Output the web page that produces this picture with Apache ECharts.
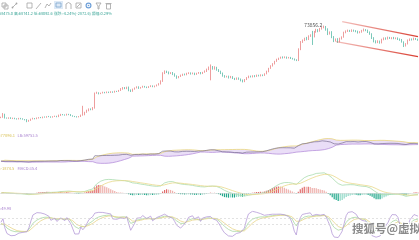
<!DOCTYPE html>
<html><head><meta charset="utf-8">
<script src="https://cdn.jsdelivr.net/npm/echarts@6/dist/echarts.min.js"></script>
<style>html,body{margin:0;padding:0;background:#fff;overflow:hidden}#c{width:419px;height:240px}</style>
</head><body><div id="c"></div>
<script>
// ---- data ----
const firstOpen = 38400;
const closes = [
38600,39800,38300,38200,38400,38100,38300,38000,37900,38200,
38000,37800,37600,37000,37400,37900,38200,38000,38300,38500,
38400,38700,38600,38900,38800,38600,38900,39000,38800,39300,
39700,39500,39400,39800,39600,39200,39000,38800,38700,38900,
39400,39500,40500,41200,41800,41500,42200,47800,48000,47700,
47900,48200,48000,48300,48100,48400,48200,48600,48500,48900,
49500,50000,49600,50200,49000,48600,49400,49900,50300,49800,
50100,50500,50200,50000,50400,50700,50300,50600,51000,51400,
52500,55500,56300,56000,55400,55800,55200,54500,53800,54300,
54800,55200,54900,55400,55700,55300,55600,55100,55500,55800,
55400,55900,56300,56900,57600,58000,57200,57800,56900,56300,
55500,54600,54100,54400,53800,54200,53600,53200,53700,53300,
52800,52300,53100,53900,54400,54100,54600,54300,54800,54500,
54900,54700,55300,56200,57400,58300,59200,60100,60800,61300,
61700,61500,61800,61400,61600,61300,61000,60700,60500,64800,
67500,68200,69000,68600,69800,70300,69600,71500,72200,71800,
72600,73200,73600,72400,70800,71300,69500,68100,68700,67700,
68900,69500,71200,71800,72000,71700,72100,71900,71600,71200,
71500,71900,72300,72000,71400,70600,69200,68000,67400,67900,
67300,68500,69100,68800,69300,69000,69200,68900,69100,68700,
68400,67600,66200,66900,68200,68700,68500,68900,68600,68300
];
const wickUp = [
200,400,150,200,150,200,150,100,200,150,
150,200,100,300,200,150,200,100,200,150,
200,150,200,100,200,150,100,200,150,300,
200,150,200,150,100,200,150,100,200,150,
200,3500,200,300,200,200,300,300,400,200,
150,200,150,200,150,200,150,200,150,200,
300,200,200,150,200,300,200,150,200,200,
150,200,150,200,150,200,150,200,200,300,
300,400,300,200,200,150,200,300,200,150,
200,150,200,300,200,150,200,150,200,200,
200,150,300,400,500,900,300,400,200,200,
200,300,200,150,200,300,200,150,200,200,
200,300,200,150,200,200,150,200,200,150,
200,150,200,300,200,300,200,200,300,200,
200,300,200,150,200,200,150,200,200,300,
400,300,200,500,300,200,1500,300,400,300,
300,200,256.2,100,400,300,400,300,200,300,
300,200,300,200,300,200,300,200,200,300,
200,300,400,200,300,200,300,200,200,300,
200,300,200,200,300,200,200,300,200,200,
200,300,200,200,300,200,200,300,200,200
];
const wickDn = [
150,200,200,150,200,150,200,150,200,150,
200,150,200,300,150,200,150,200,150,200,
150,200,150,200,150,200,150,200,200,150,
200,150,200,150,200,150,200,150,200,150,
200,200,150,200,300,200,200,300,200,300,
200,150,200,150,200,150,200,150,200,150,
200,300,200,200,400,300,200,200,200,300,
200,150,200,200,150,200,150,200,150,200,
200,300,300,400,300,200,400,300,400,200,
200,300,200,150,200,300,200,300,200,200,
300,200,200,300,200,4800,300,300,400,300,
300,400,300,200,300,200,300,300,200,300,
400,300,200,200,300,200,200,300,200,200,
200,300,200,200,300,200,200,300,200,200,
200,300,200,300,200,300,200,300,300,300,
400,300,300,400,300,300,3200,300,400,500,
300,300,400,500,600,400,500,600,400,500,
300,400,300,300,400,300,300,400,300,400,
300,400,300,300,400,300,500,600,400,300,
400,300,300,400,300,300,400,300,300,400,
400,300,600,400,300,300,400,300,300,300
];
// channel lines: [candle index, price] pairs
const channelUpper = [[171, 75350], [209, 69580]];
const channelLower = [[168, 67650], [209, 61890]];
const headerText = '开:68475.0 高:68741.2 低:68092.6 涨跌:-4.24%(-2872.6) 振幅:0.29%';
const bollLegend = ['UB:77096.1', 'LB:59753.5'];
const macdLegend = ['DEA:-1874.5', 'MACD:35.4'];
const kdjLegend = 'J:49.98';
const watermark = '搜狐号@虚拟货币';

// ---- build ----
const N = closes.length;
const cats = closes.map((_, i) => String(i));
const opens = closes.map((c, i) => i === 0 ? firstOpen : closes[i - 1]);
const highs = closes.map((c, i) => Math.max(c, opens[i]) + wickUp[i]);
const lows = closes.map((c, i) => Math.min(c, opens[i]) - wickDn[i]);
const kdata = closes.map((c, i) => [opens[i], c, lows[i], highs[i]]);

// BOLL(20,2)
const ub = [], lb = [];
for (let i = 0; i < N; i++) {
  const s = closes.slice(Math.max(0, i - 19), i + 1);
  const m = s.reduce((a, b) => a + b, 0) / s.length;
  const sd = Math.sqrt(s.reduce((a, b) => a + (b - m) * (b - m), 0) / s.length);
  ub.push(m + 2 * sd); lb.push(m - 2 * sd);
}
const bandDiff = ub.map((u, i) => u - lb[i]);

// MACD(12,26,9)
function ema(arr, n) { const o = []; arr.forEach((v, i) => o.push(i ? o[i - 1] + (v - o[i - 1]) * 2 / (n + 1) : v)); return o; }
const e12 = ema(closes, 12), e26 = ema(closes, 26);
const dif = e12.map((v, i) => v - e26[i]);
const dea = ema(dif, 9);
const hist = dif.map((v, i) => 2 * (v - dea[i]));
const lineMax = Math.max(...dif, ...dea) * 1.04;
const lineMin = -lineMax * 11 / 21;
const hPos = Math.max(...hist), hNeg = -Math.min(...hist);
const hA = Math.max(hPos * 21 / 8, hNeg * 2.1);

// KDJ(9,3,3)
const K = [], D = [], J = [];
for (let i = 0; i < N; i++) {
  const hh = Math.max(...highs.slice(Math.max(0, i - 8), i + 1));
  const ll = Math.min(...lows.slice(Math.max(0, i - 8), i + 1));
  const rsv = hh === ll ? 50 : (closes[i] - ll) / (hh - ll) * 100;
  const k = (i ? K[i - 1] : 50) * 2 / 3 + rsv / 3;
  const d = (i ? D[i - 1] : 50) * 2 / 3 + k / 3;
  K.push(k); D.push(d); J.push(3 * k - 2 * d);
}

const UP = '#e35d5d', DOWN = '#23a48c';
const FONT = '"Noto Sans CJK SC", "Noto Sans", sans-serif';
const gridTops = [[20, 104], [128, 40], [172, 32], [211, 31]];
const grid = gridTops.map(g => ({ left: 0, right: 0, top: g[0], height: g[1] }));
const xAxis = grid.map((_, i) => ({ type: 'category', gridIndex: i, data: cats, boundaryGap: true, show: false }));
const yAxis = [
  { gridIndex: 0, min: 36000, max: 76000, show: false },
  { gridIndex: 1, min: 27000, max: 95000, show: false },
  { gridIndex: 2, min: lineMin, max: lineMax, show: false },
  { gridIndex: 3, min: -25, max: 115, show: false },
  { gridIndex: 2, min: -hA * 11 / 21, max: hA, show: false }
];

const chanGrad = new echarts.graphic.LinearGradient(0, 0, 1, 0, [
  { offset: 0, color: 'rgba(222,80,70,0.35)' }, { offset: 1, color: '#d8392c' }]);

const lineS = (name, data, xi, color, w) => ({
  name, type: 'line', xAxisIndex: xi, yAxisIndex: xi, data, symbol: 'none',
  lineStyle: { color, width: w || 0.8 }, silent: true, animation: false, z: 3
});

const series = [
  {
    type: 'candlestick', data: kdata, barWidth: '60%', animation: false,
    itemStyle: { color: UP, color0: DOWN, borderColor: UP, borderColor0: DOWN, borderWidth: 0.6 },
    markPoint: {
      symbol: 'circle', symbolSize: 0, animation: false,
      data: [{ type: 'max', valueDim: 'highest' }],
      label: { show: true, position: 'left', distance: 2, color: '#555', fontSize: 5, fontFamily: FONT,
        formatter: p => Number(p.value).toFixed(1) }
    },
    markLine: {
      symbol: ['none', 'none'], silent: true, animation: false, label: { show: false },
      lineStyle: { color: chanGrad, width: 1.2, type: 'solid' },
      data: [
        [{ coord: [channelUpper[0][0], channelUpper[0][1]] }, { coord: [channelUpper[1][0], channelUpper[1][1]] }],
        [{ coord: [channelLower[0][0], channelLower[0][1]] }, { coord: [channelLower[1][0], channelLower[1][1]] }]
      ]
    }
  },
  // BOLL band fill
  { type: 'line', xAxisIndex: 1, yAxisIndex: 1, data: lb, stack: 'band', symbol: 'none', lineStyle: { opacity: 0 }, silent: true, animation: false },
  { type: 'line', xAxisIndex: 1, yAxisIndex: 1, data: bandDiff, stack: 'band', symbol: 'none', lineStyle: { opacity: 0 },
    areaStyle: { color: 'rgba(200,170,235,0.55)' }, silent: true, animation: false },
  lineS('UB', ub, 1, '#e9d57c'),
  lineS('LB', lb, 1, '#b792dc'),
  lineS('C', closes, 1, '#7a7090', 0.7),
  // MACD histogram on its own scale in the MACD pane
  {
    type: 'bar', xAxisIndex: 2, yAxisIndex: 4, data: hist, barWidth: '60%', animation: false, silent: true,
    itemStyle: {
      color: p => {
        const i = p.dataIndex, v = p.value, pv = i ? hist[i - 1] : 0;
        if (v >= 0) return v >= pv ? '#e06a6a' : '#eeb0ac';
        return v <= pv ? '#22a98c' : '#8fd8c6';
      }
    },
    markLine: { symbol: ['none', 'none'], silent: true, animation: false, label: { show: false },
      lineStyle: { color: '#d9d9d9', width: 0.6, type: 'solid' }, data: [{ yAxis: 0 }] }
  },
  lineS('DIF', dif, 2, '#a9dcae'),
  lineS('DEA', dea, 2, '#ead98c'),
  // KDJ
  Object.assign(lineS('K', K, 3, '#a9d9a5'), {
    markLine: { symbol: ['none', 'none'], silent: true, animation: false, label: { show: false },
      lineStyle: { color: '#cfcfcf', width: 0.6, type: [2, 2] }, data: [{ yAxis: 80 }, { yAxis: 50 }] }
  }),
  lineS('D', D, 3, '#e8d58a'),
  lineS('J', J, 3, '#b59bd8')
];

// toolbar icons (decoration)
const IC = '#a3a3a3';
const st = { stroke: IC, fill: 'none', lineWidth: 0.8 };
const icons = [
  { type: 'rect', shape: { x: 2, y: 3, width: 4, height: 4 }, style: st },
  { type: 'rect', shape: { x: 4, y: 5, width: 4, height: 4 }, style: st },
  { type: 'line', shape: { x1: 12, y1: 8, x2: 17, y2: 3 }, style: st },
  { type: 'circle', shape: { cx: 12.5, cy: 7.5, r: 0.9 }, style: { fill: IC } },
  { type: 'circle', shape: { cx: 16.5, cy: 3.5, r: 0.9 }, style: { fill: IC } },
  { type: 'rect', shape: { x: 27, y: 3, width: 5, height: 5 }, style: st },
  { type: 'line', shape: { x1: 36, y1: 9, x2: 41, y2: 3 }, style: st },
  { type: 'polyline', shape: { points: [[45, 8], [47, 4], [49, 6], [51, 3]] }, style: st },
  { type: 'rect', shape: { x: 54, y: 1, width: 9, height: 8 }, style: { fill: '#dde9f6' } },
  { type: 'rect', shape: { x: 56, y: 3, width: 5, height: 4 }, style: { stroke: '#7ea6cf', fill: 'none', lineWidth: 0.8 } },
  { type: 'polyline', shape: { points: [[66, 9], [66, 4], [68.5, 2.5], [71, 4], [71, 9]] }, style: st },
  { type: 'rect', shape: { x: 76, y: 3, width: 5, height: 5 }, style: st },
  { type: 'line', shape: { x1: 77, y1: 7, x2: 80, y2: 4 }, style: st },
  { type: 'circle', shape: { cx: 88.5, cy: 5.5, r: 2.4 }, style: { stroke: '#6fa0d8', fill: 'none', lineWidth: 1.2 } },
  { type: 'circle', shape: { cx: 88.5, cy: 5.5, r: 0.8 }, style: { fill: '#6fa0d8' } },
  { type: 'polygon', shape: { points: [[96, 3], [101, 3], [99, 6], [99, 9], [98, 9], [98, 6]] }, style: st },
  { type: 'rect', shape: { x: 106.5, y: 4, width: 4, height: 5 }, style: st },
  { type: 'line', shape: { x1: 105.5, y1: 3.5, x2: 111.5, y2: 3.5 }, style: st }
].map(o => Object.assign({ silent: true, z: 100 }, o));

const txt = (x, y, text, color, size, extra) => Object.assign({
  type: 'text', x, y, silent: true, z: 100,
  style: Object.assign({ text, fill: color, fontSize: size, fontFamily: FONT, textVerticalAlign: 'middle' }, extra || {})
});

const graphic = icons.concat([
  txt(-6, 13.5, headerText, '#3aa597', 3.9),
  txt(-6, 135, bollLegend[0], '#d9c25a', 4),
  txt(17.5, 135, bollLegend[1], '#a982cf', 4),
  txt(-8, 168.5, macdLegend[0], '#d9c25a', 4),
  txt(17.5, 168.5, macdLegend[1], '#a982cf', 4),
  txt(-2, 208, kdjLegend, '#a982cf', 4),
  txt(352, 229, watermark, '#8a8a8a', 11.5, { stroke: '#ffffff', lineWidth: 2, fontWeight: 'bold' })
]);

const chart = echarts.init(document.getElementById('c'), null, { renderer: 'canvas' });
chart.setOption({
  backgroundColor: '#ffffff', animation: false,
  grid, xAxis, yAxis, series, graphic
});
</script></body></html>
